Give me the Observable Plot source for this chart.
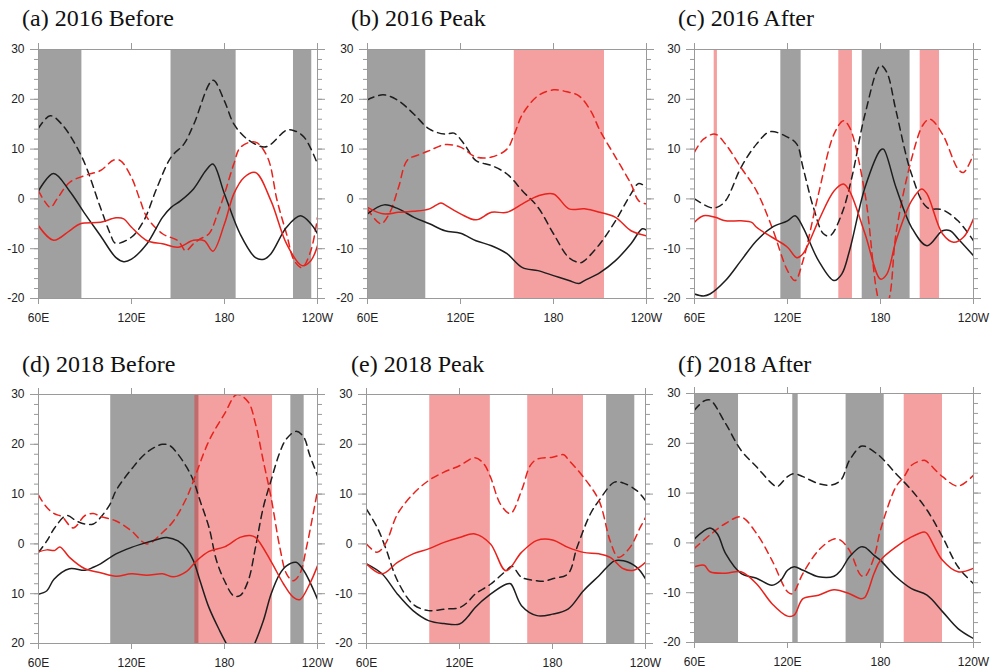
<!DOCTYPE html>
<html><head><meta charset="utf-8">
<script src="https://cdn.jsdelivr.net/npm/d3@7"></script>
<script src="https://cdn.jsdelivr.net/npm/@observablehq/plot@0.6"></script>
<style>
body{margin:0;background:#fff;}
#wrap{position:relative;width:991px;height:672px;overflow:hidden;background:#fff;}
.title{position:absolute;font-family:"Liberation Serif","Times New Roman",serif;font-size:24px;line-height:24px;color:#111;white-space:nowrap;}
.panel{position:absolute;}
</style></head><body><div id="wrap"></div>
<script>
// ---- axis ticks / labels ----
const xTicks = [60, 120, 180, 240];
const xTickLabels = ["60E", "120E", "180", "120W"];
const yTicks = [-20, -10, 0, 10, 20, 30];
const yMinorTicks = d3.range(-20, 31, 2);
const titles = ["(a) 2016 Before", "(b) 2016 Peak", "(c) 2016 After", "(d) 2018 Before", "(e) 2018 Peak", "(f) 2018 After"];

// ---- shaded longitude bands [lon1, lon2] ----
const a_gray = [[60, 88], [145.5, 187.5], [224.5, 236.3]];
const a_pink = [];
const b_gray = [[60, 97.6]];
const b_pink = [[154.7, 212.9]];
const c_gray = [[115.7, 128.8], [168.2, 199.1]];
const c_pink = [[72.7, 74.8], [153.1, 161.9], [205.6, 218.1]];
const d_gray = [[106.6, 163.5], [222.8, 231.4]];
const d_pink = [[160.9, 211]];
const e_gray = [[214.9, 233.1]];
const e_pink = [[100.8, 139.9], [164, 200]];
const f_gray = [[60, 88.4], [123.4, 126.9], [157.8, 182.4]];
const f_pink = [[195.3, 220]];

// ---- series [lon, value] ----
// (a) 2016 Before
const a_blackDash = [[60,14.2],[67.5,16.7],[75,15],[88,8.4],[99.9,-1.7],[106.3,-7],[109.6,-8.9],[119.9,-7.7],[127.9,-4.4],[136.5,2.3],[145.6,8.4],[153.8,11],[160.2,15],[172.5,23.8],[179.9,19.7],[186.1,15],[194.7,12],[205.5,10.4],[210,11],[220,13.8],[224.9,13.7],[231.4,12.4],[240,7]];
const a_blackSolid = [[60,1.6],[69.7,5.1],[80,1.6],[90,-3],[100,-7.4],[110,-11.8],[115,-12.6],[120,-12.1],[130,-9],[140,-3.7],[145.6,-1.7],[151.6,-0.4],[160,2],[168,5.7],[172.5,7],[180,1],[190,-7],[200,-11.8],[205.5,-12.1],[210,-11],[220,-5.7],[229,-3.4],[235.7,-5],[240,-7]];
const a_redDash = [[60,1.6],[64,-0.5],[67.7,-1.7],[72,0],[80,3.3],[90,4.7],[100,5.7],[108.5,7.8],[112.8,7.7],[120,4.3],[125.7,-0.4],[130,-3.7],[140,-7],[150,-8.4],[155,-10.4],[160,-9],[164.5,-8],[170,-7],[175.5,-3],[180,1],[186,7],[190.4,10.4],[200,11.4],[207.7,8.4],[214,-0.4],[220,-7],[225,-12.4],[230,-13.8],[235.7,-10.4],[240,-3.7]];
const a_redSolid = [[60,-5.4],[69.7,-8.3],[80,-6.4],[87,-5],[100,-4.7],[110,-3.8],[115,-4],[120,-5.7],[130,-8.4],[140,-9],[150,-9.7],[160,-8.3],[167,-8.4],[172.5,-10.5],[180,-5],[186,1],[192.6,4.3],[200,5.3],[210,-0.4],[220,-9],[230,-13.4],[235.7,-12.4],[240,-9.4]];
// (b) 2016 Peak
const b_blackDash = [[60,19.9],[70,20.9],[80,19.7],[90,17],[100,14],[110,13],[115.8,13.2],[122.4,11],[130,7.7],[140,6.7],[150,5],[160,1.6],[170,-1.7],[180,-7],[190,-11.8],[197.5,-12.8],[200,-12.4],[210,-9],[220,-4.4],[230,1],[235,3.1],[240,2.3]];
const b_blackSolid = [[60,-3],[70.7,-1.2],[80,-2],[90,-3.7],[100,-5],[110,-6.4],[120,-6.9],[130,-8.4],[140,-9.4],[150,-11],[160,-13.8],[170,-14.4],[180,-15.4],[190,-16.4],[196.4,-17],[200,-16.4],[210,-14.8],[220,-12.4],[230,-9],[237.3,-6],[240,-6.3]];
const b_redDash = [[60,-2],[68.6,-5],[74,-3],[80,2.3],[85.8,7.8],[94.4,9],[100,9.7],[110,10.9],[120,10.4],[130,8.4],[140,8.4],[150,10],[154.7,13],[160,17],[170,20.7],[180,21.9],[190,21.4],[196.4,20.7],[204,17.7],[210,13.7],[220,8.4],[230,3],[235,-0.4],[240,-1]];
const b_redSolid = [[60,-1.7],[70,-3],[80,-2.7],[90,-2.5],[100,-2],[107.3,-0.8],[110,-1.2],[120,-3],[130,-4.2],[140,-2.7],[150,-2.7],[160,-1],[170,0.6],[180,1],[190,-2],[200,-2],[210,-2.7],[220,-3.7],[230,-6.4],[240,-7.4]];
// (c) 2016 After
const c_blackDash = [[60,0],[70,-1.7],[74.4,-1.7],[80,-0.4],[90,6.3],[100,11],[108.8,13.5],[120,12.4],[126,11],[130,6.3],[136.7,-1.7],[143.2,-7],[147.5,-7.4],[155,-3],[161.5,4.3],[170,17],[180,26.8],[184.1,25.4],[190,17.7],[200,5],[210,-1.7],[220,-2.2],[230,-4.4],[240,-8.4]];
const c_blackSolid = [[60,-19.1],[65.8,-19.5],[70,-19.1],[80,-16.4],[90,-12.4],[100,-8.4],[110,-5.7],[120,-4.4],[124.9,-3.4],[130,-5.7],[140,-12.4],[150,-16.4],[155,-15.1],[160,-10.4],[170,2.3],[180,9.8],[181.9,10],[190,2.3],[200,-5.7],[210,-9.4],[220,-6.4],[225,-6.4],[230,-8],[240,-11.4]];
const c_redDash = [[60,9.4],[65.8,12],[73.3,13],[80,11],[90,6.3],[100,1.6],[110,-5.7],[120,-14.4],[124.9,-16.4],[130,-12.4],[140,1],[150,13],[156.1,15.7],[160,14.4],[170,1],[177.5,-18.5],[182,-24],[186.2,-19.1],[190,-7],[200,8],[207.7,15],[212,16],[220,13],[230,6],[233.5,5.3],[240,9]];
const c_redSolid = [[60,-4.7],[65.8,-3.4],[73.3,-3.7],[80,-4.4],[90,-4.4],[96.9,-4.7],[100,-5.7],[110,-7.7],[120,-9.7],[126,-11.8],[130,-11],[140,-4.4],[150,1.6],[156.1,3],[160,1.6],[170,-7],[180,-16.1],[184.1,-15.1],[190,-8.4],[200,-0.4],[206.6,2],[210,1],[220,-7],[227.1,-8.7],[233.5,-7.7],[240,-4]];
// (d) 2018 Before
const d_blackDash = [[60,-1.7],[65.4,0.6],[70.6,3.3],[78.1,5.7],[84.5,4.6],[90,4],[95.4,4],[100,5.3],[106.2,8],[110,10.7],[120,15],[130,18.4],[140,20],[144.9,19.7],[150,18],[155.6,15.4],[160,12.7],[164.2,8.7],[170,3.3],[174.9,-3.4],[180,-7.4],[185.8,-10.4],[190,-10.4],[195.3,-7.4],[200,-0.7],[205,7.3],[210,12.7],[215.7,18.4],[220,21.1],[226.2,22.6],[231.2,21.4],[234.8,18],[240,13.7]];
const d_blackSolid = [[60,-10.1],[65.4,-9.4],[70,-7.1],[80,-5],[90,-5.3],[95.4,-4.7],[100,-4],[110,-2],[120,-0.7],[130,0.3],[140,1.2],[142.8,1.3],[150,0.6],[155.6,-1],[160,-3.4],[164.2,-7.4],[170,-12.8],[177,-17.5],[182,-20.5],[190,-25],[198,-21],[205,-15.5],[210,-10.1],[215.7,-6],[220,-4.4],[226.2,-3.7],[231.2,-5.4],[240,-11.1]];
const d_redDash = [[60,9.8],[65.4,7.3],[70.6,6],[75,5.5],[82.4,3.2],[90,5.7],[95.4,6.1],[100,5.5],[110,4.6],[120,2.6],[130,0],[140,2.3],[147.1,4.6],[155.6,9.3],[160,12.7],[170,20.7],[180,26.1],[188,30],[195.3,28.5],[200,24.1],[205,16.7],[210,9.4],[215.7,-0.7],[220,-6],[224.3,-7.4],[228.6,-6],[232.9,-0.7],[240,10.7]];
const d_redSolid = [[60,-1.6],[65.4,-1.2],[70.6,-1.3],[73.8,-0.6],[80,-2.7],[90,-5],[100,-5.8],[110,-6.5],[120,-6],[130,-6.3],[140,-6],[147.1,-6.6],[155.6,-5.5],[162,-3.4],[170,-1.5],[180,-0.6],[190,1.3],[196.4,1.7],[200,1.3],[210,-3.5],[218,-8],[224.3,-10.7],[228.6,-11.2],[235,-8],[240,-4.4]];
// (e) 2018 Peak
const e_blackDash = [[60,7],[66.9,3.3],[72.2,-0.7],[80,-7.4],[90,-12.1],[100,-13.4],[110,-13.1],[120,-12.8],[124.9,-11.8],[130,-10.1],[140,-8.1],[150,-5.4],[153.9,-4.5],[160,-6.7],[170,-7.4],[174.3,-7.5],[180,-7],[190,-6],[195.8,-0.7],[204.4,6],[210,8.7],[220,12.4],[225.8,12.2],[234.4,10.7],[240,8.7]];
const e_blackSolid = [[60,-4],[70,-6],[80,-10.1],[90,-13.4],[100,-15.4],[110,-16],[120,-16.1],[124.9,-14.8],[130,-12.8],[140,-10.1],[150,-8.1],[153,-8],[160,-12.4],[170,-14.4],[180,-14.1],[190,-13.1],[200,-9.4],[210,-6.4],[220,-3.4],[225.8,-3.4],[234.4,-4.7],[240,-7]];
const e_redDash = [[60,0],[66.9,-1.7],[72.2,0],[80,6],[90,10],[100,12.7],[110,14.4],[120,15.7],[130,17.3],[135.6,16.1],[140,13.4],[146.4,8],[152.8,6.1],[160,10.7],[165.6,15.7],[170,17],[180,17.4],[187.3,17.9],[190,17],[200,13.4],[210,8.7],[217.2,0.6],[222.5,-2.7],[230,-0.7],[236.6,3.3],[240,5.3]];
const e_redSolid = [[60,-4],[70,-6],[80,-3.7],[90,-2],[100,-1],[110,0.3],[120,1.3],[130,2],[140,0],[150,-5.4],[160,-1.7],[170,0.7],[180,0.8],[190,-0.7],[200,-1.7],[210,-2],[217.2,-2.7],[225.8,-5],[232.3,-5.3],[240,-3.7]];
// (f) 2018 After
const f_blackDash = [[60,26.7],[66.2,28.5],[70,28.7],[80,24],[90,18.6],[100,15.3],[110,11.9],[113.3,11.3],[120,13.3],[124.3,13.9],[130,13.3],[140,11.9],[147.9,11.6],[154.4,12.6],[160,16.6],[167.3,19.4],[170,19.4],[175.9,18.3],[180,17.3],[190,13.9],[200,10.6],[210,6.6],[220,1.2],[230,-4.8],[240,-8.2]];
const f_blackSolid = [[60,0.8],[70,3],[74.8,1.8],[80,-2.1],[90,-6.1],[100,-7.1],[110,-8.5],[115.7,-7.5],[120,-5.5],[124.3,-4.8],[130,-5.5],[140,-6.8],[150,-6.7],[154.4,-5.5],[160,-2.8],[167.3,-0.8],[170,-0.9],[175.9,-2.5],[180,-3.5],[190,-6.8],[200,-9.2],[210,-10.5],[220,-13.8],[230,-17.2],[240,-19.2]];
const f_redDash = [[60,-1.1],[70,1.6],[80,3.9],[90,5.2],[100,1.9],[110,-3.5],[120,-9.8],[123.2,-10.2],[130,-6.1],[140,-1.5],[150,0.8],[154.4,0.5],[160,-1.5],[167.3,-6.5],[170,-6.7],[175.9,-2.8],[180,2.6],[190,11.3],[195.2,13.3],[200,15.6],[208.2,16.6],[210,16.3],[220,13.3],[230,11.4],[240,13.6]];
const f_redSolid = [[60,-4.8],[66.2,-4.5],[70,-5.8],[80,-6.1],[90,-5.8],[100,-8.2],[110,-12.2],[120,-14.7],[124.3,-14.5],[130,-11.2],[140,-10.5],[150,-9.4],[160,-10.2],[167.3,-11.2],[170,-10.9],[175.9,-6.1],[180,-3.5],[190,-0.8],[200,1.2],[208.2,2.2],[210,1.9],[220,-3.5],[230,-5.8],[240,-5.1]];

// ---- assembly ----
const panels = [
  {title: titles[0], gray: a_gray, pink: a_pink, bd: a_blackDash, bs: a_blackSolid, rd: a_redDash, rs: a_redSolid, x0: 38, y0: 49, tx: 22, ty: 6, noMinus: false},
  {title: titles[1], gray: b_gray, pink: b_pink, bd: b_blackDash, bs: b_blackSolid, rd: b_redDash, rs: b_redSolid, x0: 367, y0: 49, tx: 351, ty: 6, noMinus: false},
  {title: titles[2], gray: c_gray, pink: c_pink, bd: c_blackDash, bs: c_blackSolid, rd: c_redDash, rs: c_redSolid, x0: 694, y0: 49, tx: 678, ty: 6, noMinus: false},
  {title: titles[3], gray: d_gray, pink: d_pink, bd: d_blackDash, bs: d_blackSolid, rd: d_redDash, rs: d_redSolid, x0: 38, y0: 394, tx: 22, ty: 352, noMinus: true},
  {title: titles[4], gray: e_gray, pink: e_pink, bd: e_blackDash, bs: e_blackSolid, rd: e_redDash, rs: e_redSolid, x0: 366, y0: 394, tx: 351, ty: 352, noMinus: false},
  {title: titles[5], gray: f_gray, pink: f_pink, bd: f_blackDash, bs: f_blackSolid, rd: f_redDash, rs: f_redSolid, x0: 694, y0: 393, tx: 678, ty: 352, noMinus: false}
];

const FW = 279, FH = 249, ML = 40, MR = 16, MT = 12, MB = 30;
const GRAY = "#a0a0a0", PINK = "#e82c2c", BLACK = "#1e1e1e", RED = "#e8221c", AXIS = "#9a9a9a", LABEL = "#222";
const wrap = document.getElementById("wrap");

for (const p of panels) {
  const t = document.createElement("div");
  t.className = "title";
  t.textContent = p.title;
  t.style.left = p.tx + "px";
  t.style.top = p.ty + "px";
  wrap.appendChild(t);

  const lineOpts = (stroke, dash) => ({x: d => d[0], y: d => d[1], stroke, strokeWidth: 1.5, curve: "catmull-rom", clip: true, strokeDasharray: dash});
  const yFmt = p.noMinus ? (d => String(Math.abs(d))) : (d => String(d));
  const chart = Plot.plot({
    width: ML + FW + MR,
    height: MT + FH + MB,
    marginLeft: ML, marginRight: MR, marginTop: MT, marginBottom: MB,
    style: {background: "transparent", overflow: "visible", fontFamily: "'Liberation Sans', Arial, Helvetica, sans-serif", fontSize: "12px"},
    x: {domain: [60, 240]},
    y: {domain: [-20, 30]},
    marks: [
      Plot.rect(p.gray, {x1: d => d[0], x2: d => d[1], fill: GRAY}),
      Plot.rect(p.pink, {x1: d => d[0], x2: d => d[1], fill: PINK, fillOpacity: 0.45}),
      Plot.line(p.bd, lineOpts(BLACK, "7,5")),
      Plot.line(p.rd, lineOpts(RED, "7,5")),
      Plot.line(p.bs, lineOpts(BLACK, null)),
      Plot.line(p.rs, lineOpts(RED, null)),
      Plot.frame({stroke: AXIS}),
      Plot.axisY(yMinorTicks, {anchor: "left", tickSize: 4, tickFormat: () => "", stroke: AXIS, label: null}),
      Plot.axisY(yMinorTicks, {anchor: "right", tickSize: 4, tickFormat: () => "", stroke: AXIS, label: null}),
      Plot.axisY(yTicks, {anchor: "left", tickSize: 8, tickPadding: 6, tickFormat: yFmt, stroke: AXIS, fill: LABEL, label: null}),
      Plot.axisY(yTicks, {anchor: "right", tickSize: 7, tickFormat: () => "", stroke: AXIS, label: null}),
      Plot.axisX(xTicks, {anchor: "bottom", tickSize: 6, tickPadding: 9, tickFormat: d => xTickLabels[xTicks.indexOf(d)], stroke: AXIS, fill: LABEL, label: null}),
      Plot.axisX(xTicks, {anchor: "top", tickSize: 7, tickFormat: () => "", stroke: AXIS, label: null})
    ]
  });
  chart.classList.add("panel");
  chart.style.left = (p.x0 - ML) + "px";
  chart.style.top = (p.y0 - MT) + "px";
  wrap.appendChild(chart);
}
</script>
</body></html>
